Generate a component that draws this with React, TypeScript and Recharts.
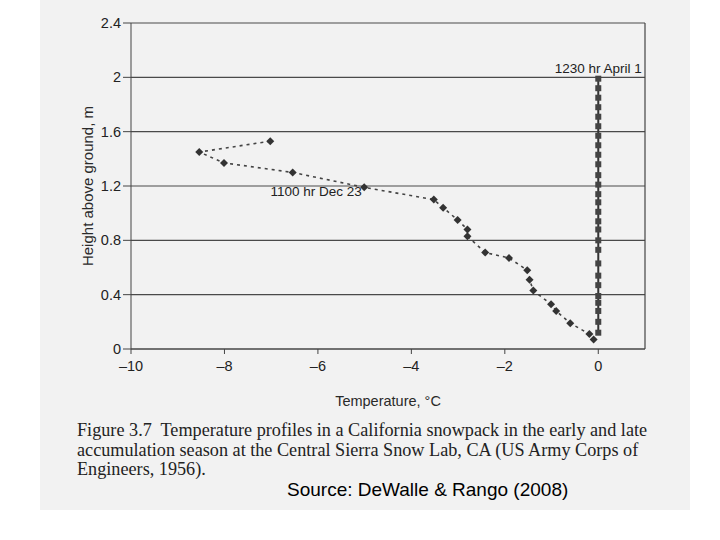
import React from 'react';
import { LineChart, Line, XAxis, YAxis, CartesianGrid, ReferenceLine, ReferenceDot } from 'recharts';

// Dec 23 profile: temperature (°C) vs height above ground (m)
const dec23Temp = [-7.02, -8.54, -8.01, -6.54, -5.01, -3.52, -3.32, -3.01, -2.8, -2.8, -2.42, -1.91, -1.52, -1.47, -1.39, -1.01, -0.9, -0.6, -0.19, -0.1];
const dec23Height = [1.53, 1.45, 1.37, 1.3, 1.19, 1.1, 1.04, 0.95, 0.88, 0.83, 0.71, 0.67, 0.58, 0.51, 0.43, 0.33, 0.28, 0.19, 0.11, 0.07];

// April 1 profile: isothermal at 0 °C
const apr1Height = [1.99, 1.92, 1.85, 1.78, 1.71, 1.64, 1.57, 1.5, 1.43, 1.36, 1.28, 1.21, 1.14, 1.08, 1.01, 0.94, 0.88, 0.8, 0.73, 0.63, 0.54, 0.47, 0.39, 0.34, 0.28, 0.2, 0.12];
const apr1Temp = apr1Height.map(() => 0);

const xTicks = [-10, -8, -6, -4, -2, 0];
const yTicks = [0, 0.4, 0.8, 1.2, 1.6, 2, 2.4];

const dec23 = dec23Temp.map((t, i) => ({ t, h: dec23Height[i] }));
const apr1 = apr1Temp.map((t, i) => ({ t, h: apr1Height[i] }));

const sans = 'Liberation Sans, Arial, sans-serif';

const Diamond = (props: any) => {
  const { cx, cy } = props;
  if (cx == null || cy == null) return null;
  return <polygon points={`${cx - 4},${cy} ${cx},${cy - 4} ${cx + 4},${cy} ${cx},${cy + 4}`} fill="#333" />;
};

const Square = (props: any) => {
  const { cx, cy } = props;
  if (cx == null || cy == null) return null;
  return <rect x={cx - 3} y={cy - 3} width={6} height={6} fill="#444" />;
};

const fmtX = (v: number) => (v < 0 ? '\u2013' + Math.abs(v) : String(v));

const XTick = (props: any) => {
  const { x, y, payload } = props;
  return (
    <text x={x} y={y + 14} textAnchor="middle" fill="#222" fontSize={14.5} fontFamily={sans}>
      {fmtX(payload.value)}
    </text>
  );
};

const YTick = (props: any) => {
  const { x, y, payload } = props;
  return (
    <text x={x} y={y + 5} textAnchor="end" fill="#222" fontSize={14.5} fontFamily={sans}>
      {String(payload.value)}
    </text>
  );
};

export default function App() {
  return (
    <div style={{ position: 'absolute', left: 0, top: 0, width: 720, height: 540, background: '#fff', overflow: 'hidden' }}>
      <div style={{ position: 'absolute', left: 40, top: 0, width: 650, height: 510, background: '#f2f2f2' }} />
      <div style={{ position: 'absolute', left: 0, top: 0 }}>
        <LineChart width={720} height={420} margin={{ top: 23, right: 75, bottom: 41, left: 71 }}>
          <CartesianGrid vertical={false} stroke="#4a4a4a" strokeWidth={1.2} />
          <XAxis
            type="number"
            dataKey="t"
            domain={[-10, 1]}
            ticks={xTicks}
            tick={<XTick />}
            tickSize={5}
            tickMargin={3}
            height={30}
            stroke="#444"
            allowDataOverflow
            label={{ value: 'Temperature, °C', position: 'bottom', offset: 17, fill: '#2a2a2a', fontSize: 14.5, fontFamily: sans }}
          />
          <YAxis
            type="number"
            dataKey="h"
            domain={[0, 2.4]}
            ticks={yTicks}
            tick={<YTick />}
            tickSize={8}
            tickMargin={2}
            width={60}
            stroke="#444"
            label={{ value: 'Height above ground, m', angle: -90, position: 'insideLeft', offset: 17, fill: '#2a2a2a', fontSize: 15, fontFamily: sans, style: { textAnchor: 'middle' } }}
          />
          <ReferenceLine x={1} stroke="#444" strokeWidth={1.2} />
          <Line
            data={dec23}
            dataKey="h"
            stroke="#444"
            strokeWidth={1.6}
            strokeDasharray="3 4"
            dot={<Diamond />}
            activeDot={false}
            isAnimationActive={false}
          />
          <Line
            data={apr1}
            dataKey="h"
            stroke="#333"
            strokeWidth={2}
            dot={<Square />}
            activeDot={false}
            isAnimationActive={false}
          />
          <ReferenceDot x={0} y={2.07} r={0} stroke="none" label={{ value: '1230 hr April 1', position: 'center', fill: '#222', fontSize: 13.5, fontFamily: sans }} />
          <ReferenceDot x={-6.04} y={1.158} r={0} stroke="none" label={{ value: '1100 hr Dec 23', position: 'center', fill: '#222', fontSize: 13.5, fontFamily: sans }} />
        </LineChart>
      </div>
      <div style={{ position: 'absolute', left: 77, top: 421, width: 620, fontFamily: 'Liberation Serif, Times New Roman, serif', fontSize: 18.2, lineHeight: '19.5px', color: '#222', whiteSpace: 'nowrap' }}>
        Figure 3.7&nbsp; Temperature profiles in a California snowpack in the early and late<br />
        accumulation season at the Central Sierra Snow Lab, CA (US Army Corps of<br />
        Engineers, 1956).
      </div>
      <div style={{ position: 'absolute', left: 287, top: 479, fontFamily: sans, fontSize: 19, color: '#000', whiteSpace: 'nowrap' }}>
        Source: DeWalle &amp; Rango (2008)
      </div>
    </div>
  );
}
